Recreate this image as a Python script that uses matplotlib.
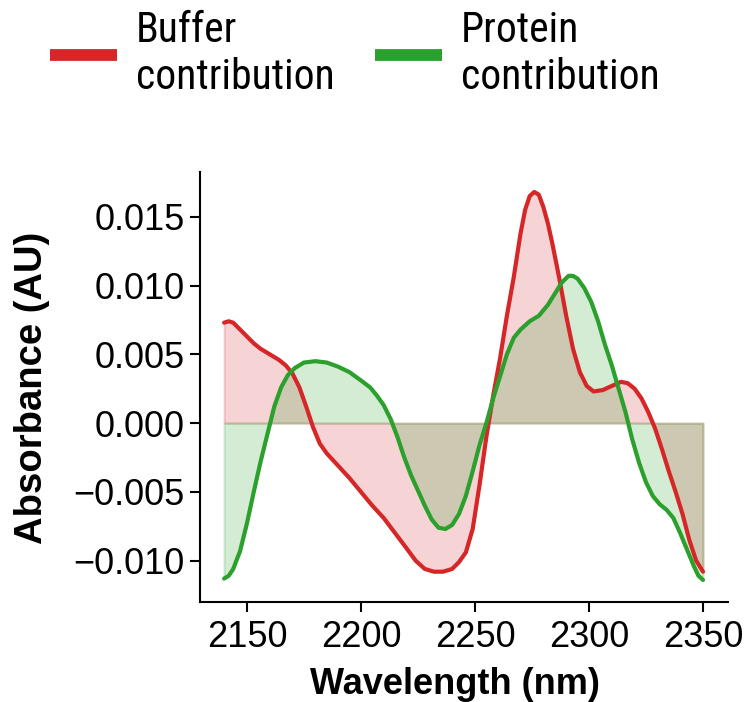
import matplotlib as mpl
import matplotlib.pyplot as plt
from matplotlib.ticker import FixedLocator, FuncFormatter

mpl.rcParams['font.family'] = ['Liberation Sans', 'DejaVu Sans']

# values (wavelength in nm, absorbance in AU)
buffer_wl = [2140, 2142, 2144, 2147, 2150, 2153, 2156, 2160, 2164, 2167,
             2170, 2173, 2176, 2179, 2182, 2185, 2190, 2195, 2200, 2205,
             2210, 2215, 2220, 2224, 2228, 2232, 2236, 2240, 2243, 2246,
             2249, 2252, 2255, 2258, 2261, 2264, 2267, 2270, 2272, 2274,
             2276, 2278, 2280, 2282, 2284, 2287, 2290, 2293, 2296, 2299,
             2302, 2306, 2310, 2314, 2317, 2320, 2323, 2326, 2329, 2332,
             2335, 2338, 2341, 2344, 2347, 2350]
buffer_abs = [0.0073, 0.0074, 0.0073, 0.0068, 0.0063, 0.0058, 0.0054, 0.0050,
              0.0046, 0.0042, 0.0036, 0.0026, 0.0012, -0.0003, -0.0015,
              -0.0022, -0.0031, -0.0040, -0.0050, -0.0060, -0.0069, -0.0080,
              -0.0091, -0.0100, -0.0106, -0.0108, -0.0108, -0.0106, -0.0101,
              -0.0094, -0.0077, -0.0045, -0.0010, 0.0020, 0.0047, 0.0078,
              0.0106, 0.0138, 0.0155, 0.0165, 0.0168, 0.0166, 0.0157, 0.0145,
              0.0130, 0.0105, 0.0078, 0.0054, 0.0037, 0.0027, 0.0023, 0.0024,
              0.0027, 0.0030, 0.0029, 0.0025, 0.0018, 0.0008, -0.0004,
              -0.0019, -0.0035, -0.0050, -0.0066, -0.0085, -0.0100, -0.0108]

protein_wl = [2140, 2142, 2144, 2147, 2150, 2153, 2156, 2159, 2162, 2165,
              2168, 2171, 2175, 2180, 2185, 2190, 2195, 2200, 2204, 2207,
              2210, 2213, 2216, 2219, 2222, 2225, 2228, 2231, 2234, 2237,
              2240, 2243, 2246, 2249, 2252, 2255, 2258, 2261, 2264, 2267,
              2270, 2274, 2278, 2282, 2285, 2288, 2291, 2293, 2295, 2298,
              2301, 2304, 2307, 2310, 2313, 2316, 2319, 2322, 2325, 2328,
              2331, 2334, 2337, 2340, 2343, 2346, 2348, 2350]
protein_abs = [-0.0113, -0.0111, -0.0106, -0.0093, -0.0073, -0.0050, -0.0028,
               -0.0008, 0.0012, 0.0026, 0.0035, 0.0040, 0.0044, 0.0045, 0.0044,
               0.0041, 0.0037, 0.0031, 0.0026, 0.0020, 0.0013, 0.0003, -0.0010,
               -0.0025, -0.0038, -0.0049, -0.0060, -0.0070, -0.0076, -0.0077,
               -0.0074, -0.0066, -0.0053, -0.0035, -0.0016, 0.0000, 0.0018,
               0.0034, 0.0050, 0.0062, 0.0068, 0.0074, 0.0078, 0.0086, 0.0094,
               0.0102, 0.0107, 0.0107, 0.0105, 0.0098, 0.0088, 0.0074, 0.0057,
               0.0042, 0.0025, 0.0008, -0.0012, -0.0029, -0.0043, -0.0053,
               -0.0059, -0.0063, -0.0069, -0.0080, -0.0092, -0.0104, -0.0111,
               -0.0114]

xticks = [2150, 2200, 2250, 2300, 2350]
yticks = [-0.010, -0.005, 0.000, 0.005, 0.010, 0.015]

red = '#d62728'
green = '#2ca02c'

fig = plt.figure(figsize=(7.46, 7.02), dpi=100)
ax = fig.add_axes([0.268, 0.1425, 0.708, 0.6125])

ax.fill_between(buffer_wl, buffer_abs, 0, color=red, alpha=0.2, lw=1.5)
ax.fill_between(protein_wl, protein_abs, 0, color=green, alpha=0.2, lw=1.5)
ax.plot(buffer_wl, buffer_abs, color=red, lw=3, solid_capstyle='round',
        solid_joinstyle='round', label='Buffer\ncontribution')
ax.plot(protein_wl, protein_abs, color=green, lw=3, solid_capstyle='round',
        solid_joinstyle='round', label='Protein\ncontribution')

ax.set_xlim(2129.4, 2361)
ax.set_ylim(-0.0130, 0.01825)
ax.xaxis.set_major_locator(FixedLocator(xticks))
ax.yaxis.set_major_locator(FixedLocator(yticks))
ax.yaxis.set_major_formatter(FuncFormatter(lambda v, p: f'{v:.3f}'.replace('-', '\u2212')))

for s in ['top', 'right']:
    ax.spines[s].set_visible(False)
for s in ['left', 'bottom']:
    ax.spines[s].set_linewidth(1.5)
ax.tick_params(labelsize=26, length=7, width=1.5)
ax.tick_params(axis='x', pad=6)
ax.tick_params(axis='y', pad=4)

ax.set_xlabel('Wavelength (nm)', fontsize=26, fontweight='bold', va='top')
ax.xaxis.set_label_coords(0.483, -0.152)
ax.set_ylabel('Absorbance (AU)', fontsize=27.5, fontweight='bold')
ax.yaxis.set_label_coords(-0.283, 0.497)

leg = fig.legend(loc='upper left', bbox_to_anchor=(0.067, 0.986), ncol=2,
                 frameon=False, handlelength=1.61, handletextpad=0.45,
                 columnspacing=0.97, borderaxespad=0, borderpad=0,
                 prop={'family': ['Roboto Condensed', 'Liberation Sans Narrow', 'Roboto'],
                       'size': 30})
for h in leg.get_lines():
    h.set_linewidth(8.5)
    h.set_solid_capstyle('butt')

fig.savefig('out.png', dpi=100)
